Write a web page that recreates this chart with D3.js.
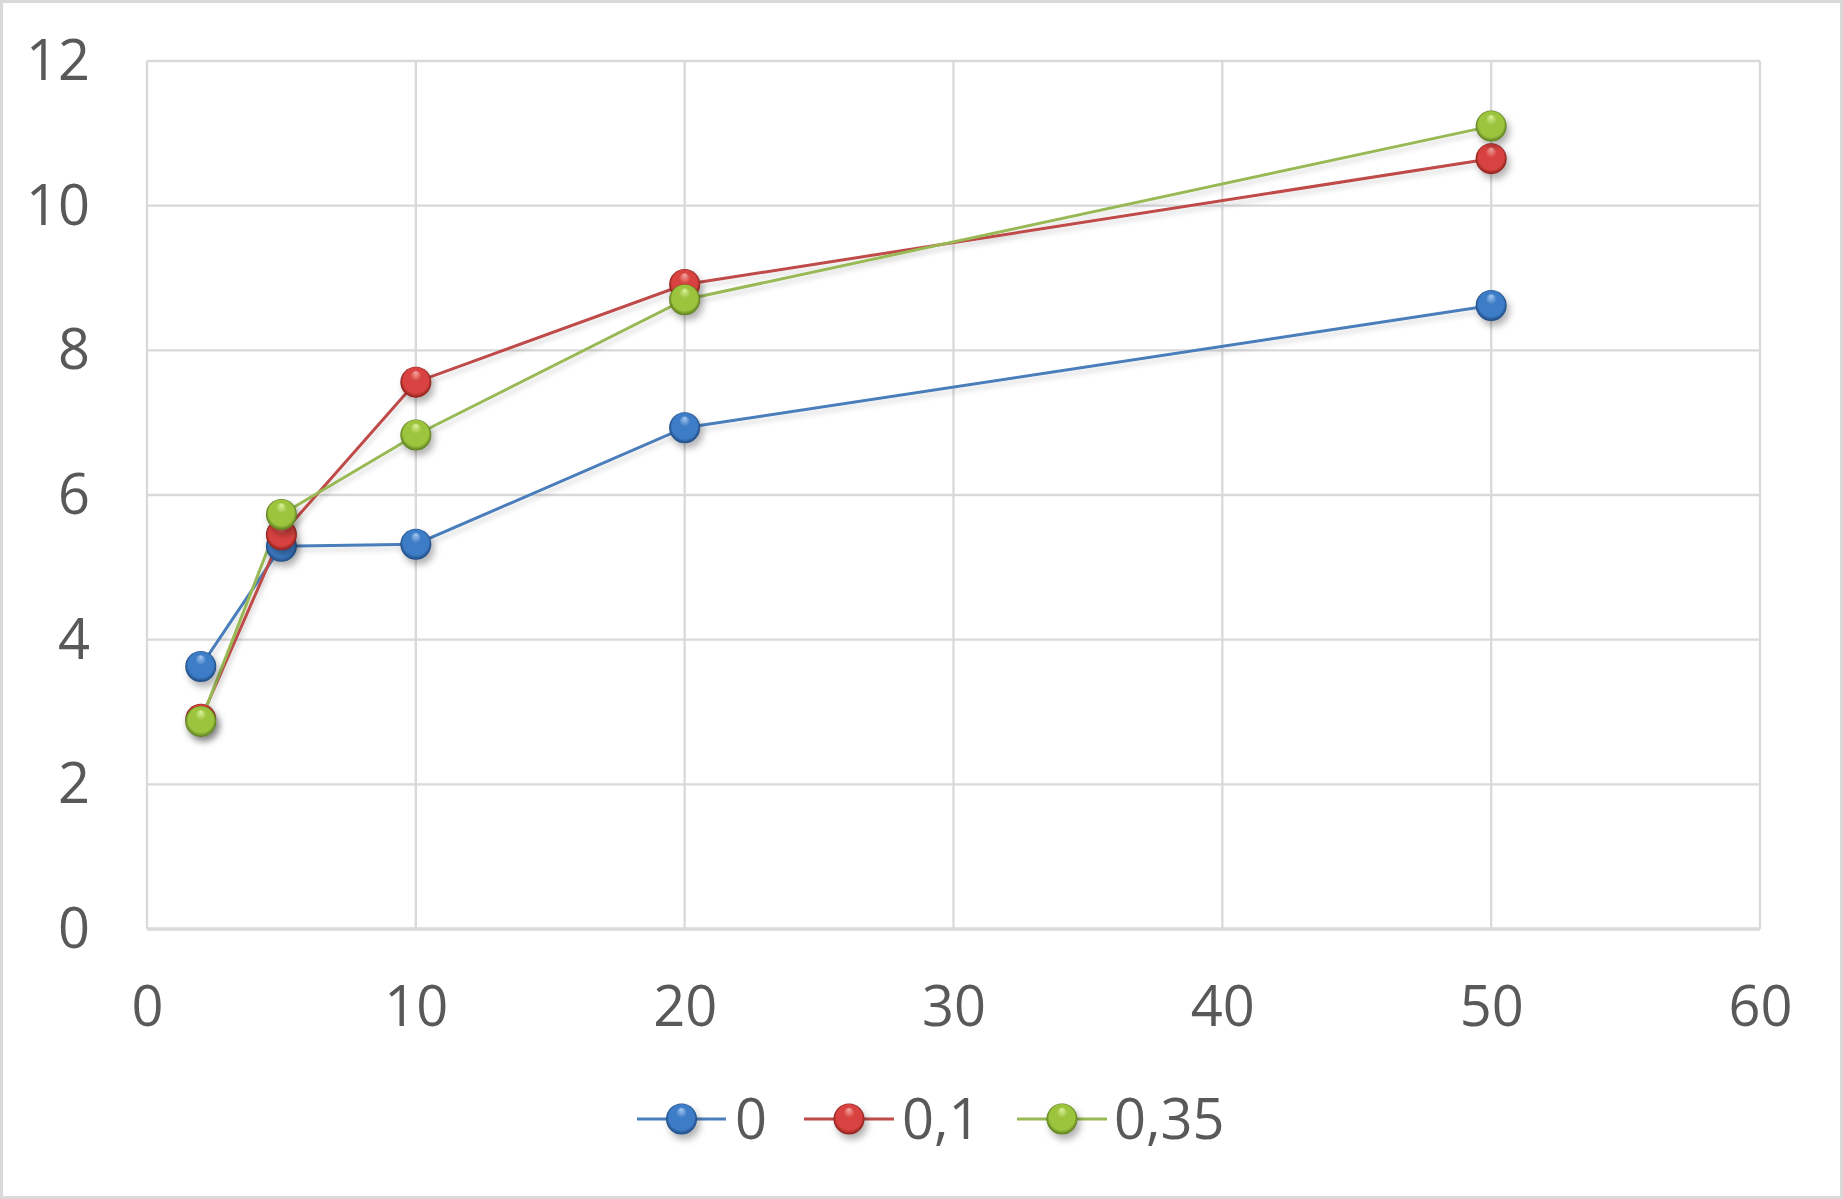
<!DOCTYPE html>
<html>
<head>
<meta charset="utf-8">
<script src="https://cdn.jsdelivr.net/npm/d3@7"></script>
<style>
  html, body { margin: 0; padding: 0; background: #fff; }
  svg { display: block; }
  text { font-family: "Open Sans", "Noto Sans", sans-serif; fill: #595959; }
</style>
</head>
<body>
<svg id="chart" width="1843" height="1199"></svg>
<script>
// ---- data ----
const xValues = [2, 5, 10, 20, 50];
const seriesNames = ["0", "0,1", "0,35"];
const series0 = [3.63, 5.29, 5.32, 6.93, 8.62];
const series01 = [2.90, 5.45, 7.56, 8.91, 10.65];
const series035 = [2.87, 5.73, 6.83, 8.70, 11.10];
const xTicks = [0, 10, 20, 30, 40, 50, 60];
const yTicks = [0, 2, 4, 6, 8, 10, 12];
const colors = ["#4A7EBB", "#BE4B48", "#98B954"];
const markerColors = ["#3E7CC6", "#D8433F", "#9CC43E"];
const lightColors = ["#A9CBF2", "#F5A9A6", "#DDF3A0"];
const darkColors = ["#1E4A80", "#8A1F1C", "#5A7A1E"];

const allSeries = [series0, series01, series035].map((vals, i) => ({
  name: seriesNames[i],
  color: colors[i],
  mcolor: markerColors[i],
  light: lightColors[i],
  dark: darkColors[i],
  points: vals.map((v, j) => ({ x: xValues[j], y: v }))
}));

// ---- layout ----
const W = 1843, H = 1199;
const plot = { left: 147, right: 1760, top: 61, bottom: 929 };
const svg = d3.select("#chart");

const x = d3.scaleLinear().domain([0, 60]).range([plot.left, plot.right]);
const y = d3.scaleLinear().domain([0, 12]).range([plot.bottom, plot.top]);

const defs = svg.append("defs");
const shadow = defs.append("filter").attr("id", "shadow")
  .attr("x", "-50%").attr("y", "-50%").attr("width", "200%").attr("height", "200%");
shadow.append("feDropShadow").attr("dx", 3).attr("dy", 5).attr("stdDeviation", 3.5)
  .attr("flood-color", "#000").attr("flood-opacity", 0.3);
const lshadow = defs.append("filter").attr("id", "lshadow")
  .attr("x", "-10%").attr("y", "-10%").attr("width", "120%").attr("height", "130%");
lshadow.append("feDropShadow").attr("dx", 2).attr("dy", 4).attr("stdDeviation", 2.5)
  .attr("flood-color", "#000").attr("flood-opacity", 0.15);

allSeries.forEach((s, i) => {
  const g = defs.append("radialGradient").attr("id", "sph" + i)
    .attr("cx", "50%").attr("cy", "50%").attr("r", "50%")
    .attr("fx", "50%").attr("fy", "18%");
  g.append("stop").attr("offset", "0%").attr("stop-color", s.light);
  g.append("stop").attr("offset", "35%").attr("stop-color", s.mcolor);
  g.append("stop").attr("offset", "82%").attr("stop-color", s.mcolor);
  g.append("stop").attr("offset", "100%").attr("stop-color", s.dark);
});

// outer border
svg.append("rect").attr("x", 1.5).attr("y", 1.5).attr("width", W - 3).attr("height", H - 3)
  .attr("fill", "#fff").attr("stroke", "#D9D9D9").attr("stroke-width", 3);

// gridlines
const grid = svg.append("g");
grid.selectAll("line.h").data(yTicks).join("line")
  .attr("x1", plot.left).attr("x2", plot.right)
  .attr("y1", d => y(d)).attr("y2", d => y(d))
  .attr("stroke", "#D9D9D9").attr("stroke-width", d => d === 0 ? 3.5 : 2.3);
grid.selectAll("line.v").data(xTicks).join("line")
  .attr("y1", plot.top).attr("y2", plot.bottom)
  .attr("x1", d => x(d)).attr("x2", d => x(d))
  .attr("stroke", "#D9D9D9").attr("stroke-width", 2.3);

// axes (labels only)
const yAxis = d3.axisLeft(y).tickValues(yTicks).tickSize(0).tickPadding(57).tickFormat(d3.format("d"));
const yg = svg.append("g").attr("transform", `translate(${plot.left},0)`).call(yAxis);
yg.select(".domain").remove();
yg.selectAll("text").style("font-size", "56px").attr("fill", "#595959")
  .style("font-family", '"Open Sans", sans-serif').attr("dy", "0.33em");

const xAxis = d3.axisBottom(x).tickValues(xTicks).tickSize(0).tickPadding(0).tickFormat(d3.format("d"));
const xg = svg.append("g").attr("transform", `translate(0,${plot.bottom})`).call(xAxis);
xg.select(".domain").remove();
xg.selectAll("text").style("font-size", "56px").attr("fill", "#595959")
  .style("font-family", '"Open Sans", sans-serif').attr("y", 97).attr("dy", 0);

// lines
const line = d3.line().x(d => x(d.x)).y(d => y(d.y));
const lineG = svg.append("g").attr("filter", "url(#lshadow)");
allSeries.forEach(s => {
  lineG.append("path").datum(s.points).attr("d", line)
    .attr("fill", "none").attr("stroke", s.color).attr("stroke-width", 3);
});

// markers
allSeries.forEach((s, i) => {
  svg.append("g").attr("filter", "url(#shadow)")
    .selectAll("circle").data(s.points).join("circle")
    .attr("cx", d => x(d.x)).attr("cy", d => y(d.y)).attr("r", 15.5)
    .attr("fill", `url(#sph${i})`);
});

// legend
const legendY = 1119;
const legendItems = [
  { x1: 637, x2: 726, tx: 735 },
  { x1: 804, x2: 894, tx: 902 },
  { x1: 1017, x2: 1107, tx: 1114 }
];
const lg = svg.append("g");
allSeries.forEach((s, i) => {
  const it = legendItems[i];
  lg.append("line").attr("x1", it.x1).attr("x2", it.x2)
    .attr("y1", legendY).attr("y2", legendY)
    .attr("stroke", s.color).attr("stroke-width", 3);
  lg.append("circle").attr("cx", (it.x1 + it.x2) / 2).attr("cy", legendY).attr("r", 15.5)
    .attr("fill", `url(#sph${i})`).attr("filter", "url(#shadow)");
  lg.append("text").attr("x", it.tx).attr("y", legendY).attr("dy", "0.36em")
    .style("font-size", "56px").text(s.name);
});
</script>
</body>
</html>
